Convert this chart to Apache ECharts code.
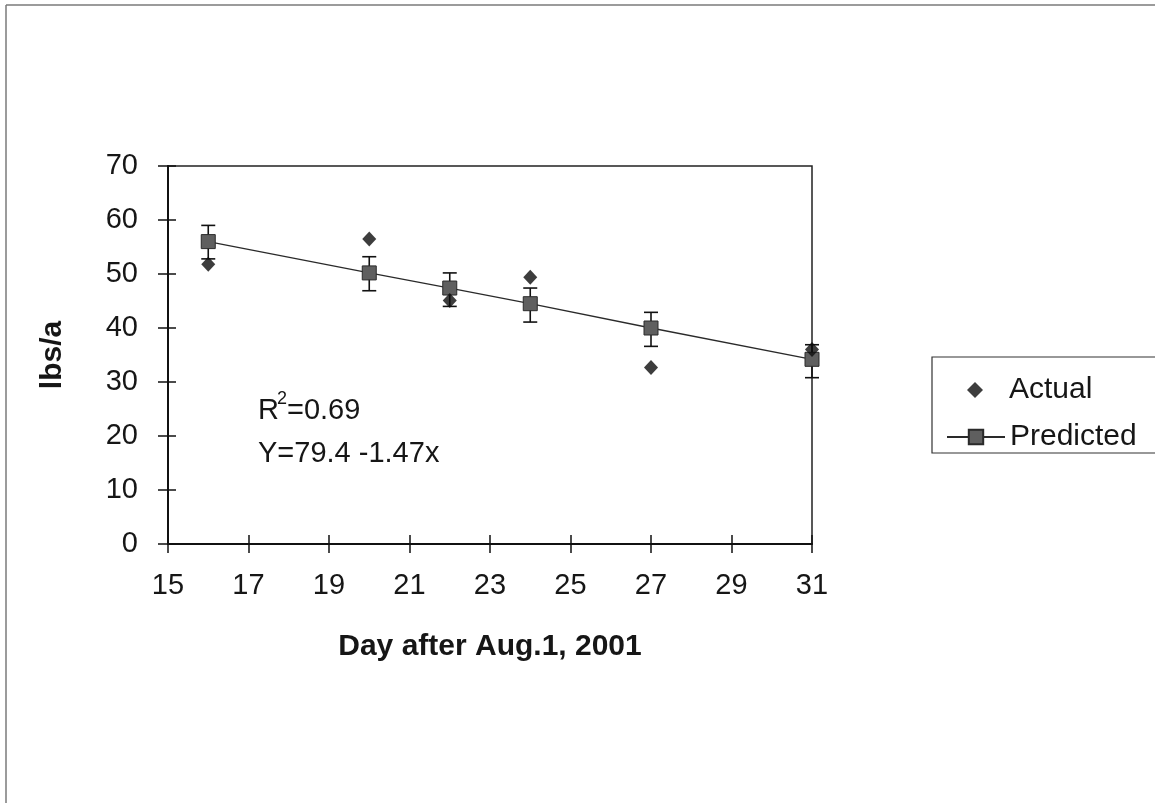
<!DOCTYPE html>
<html>
<head>
<meta charset="utf-8">
<script src="https://cdn.jsdelivr.net/npm/echarts@6/dist/echarts.min.js"></script>
<style>
html,body{margin:0;padding:0;background:#fff;}
#c{width:1155px;height:803px;}
</style>
</head>
<body>
<div id="c"></div>
<script>
// Data
const days = [16, 20, 22, 24, 27, 31];
const actual = [51.8, 56.5, 45.1, 49.4, 32.7, 36.0];
const predicted = [56.0, 50.2, 47.4, 44.5, 40.0, 34.2];
const errLow = [52.8, 46.9, 44.0, 41.1, 36.6, 30.8];
const errHigh = [59.0, 53.2, 50.2, 47.4, 42.9, 36.9];
const xTicks = [15, 17, 19, 21, 23, 25, 27, 29, 31];
const yTicks = [0, 10, 20, 30, 40, 50, 60, 70];

const FONT = '"Liberation Sans", Arial, sans-serif';
const INK = '#161616';

const chart = echarts.init(document.getElementById('c'), null, {renderer: 'canvas'});

const baseX = {
  type: 'value', gridIndex: 0,
  min: xTicks[0], max: xTicks[xTicks.length - 1], interval: 2,
  splitLine: {show: false}
};
const baseY = {
  type: 'value', gridIndex: 0,
  min: yTicks[0], max: yTicks[yTicks.length - 1], interval: 10,
  splitLine: {show: false}
};

const legendText = {fontFamily: FONT, fontSize: 30, color: INK, lineHeight: 30};

const option = {
  backgroundColor: '#ffffff',
  animation: false,
  textStyle: {fontFamily: FONT, color: INK},
  grid: {
    left: 168, top: 166, width: 644, height: 378,
    show: true, borderColor: '#222', borderWidth: 1.5, backgroundColor: 'transparent'
  },
  xAxis: [
    Object.assign({}, baseX, {
      position: 'bottom',
      name: 'Day after Aug.1, 2001',
      nameLocation: 'middle',
      nameGap: 88,
      nameTextStyle: {fontFamily: FONT, fontSize: 30, fontWeight: 'bold', color: INK},
      axisLine: {show: true, lineStyle: {color: '#111', width: 2}},
      axisTick: {show: true, inside: false, length: 9, lineStyle: {color: '#111', width: 1.5}},
      axisLabel: {show: true, margin: 27, fontFamily: FONT, fontSize: 29, color: INK}
    }),
    Object.assign({}, baseX, {
      position: 'bottom',
      axisLine: {show: false},
      axisTick: {show: true, inside: true, length: 9, lineStyle: {color: '#111', width: 1.5}},
      axisLabel: {show: false}
    })
  ],
  yAxis: [
    Object.assign({}, baseY, {
      position: 'left',
      name: 'lbs/a',
      nameLocation: 'middle',
      nameGap: 100,
      nameRotate: 90,
      nameTextStyle: {fontFamily: FONT, fontSize: 30, fontWeight: 'bold', color: INK},
      axisLine: {show: true, lineStyle: {color: '#111', width: 2}},
      axisTick: {show: true, inside: false, length: 10, lineStyle: {color: '#111', width: 1.5}},
      axisLabel: {show: true, margin: 30, fontFamily: FONT, fontSize: 29, color: INK}
    }),
    Object.assign({}, baseY, {
      position: 'left',
      axisLine: {show: false},
      axisTick: {show: true, inside: true, length: 8, lineStyle: {color: '#111', width: 1.5}},
      axisLabel: {show: false}
    })
  ],
  legend: [
    {
      data: ['Actual'],
      left: 962, top: 370,
      itemWidth: 16, itemHeight: 16,
      textStyle: Object.assign({}, legendText, {padding: [0, 0, 0, 21]}),
      selectedMode: false
    },
    {
      data: ['Predicted'],
      left: 941, top: 417,
      itemWidth: 58, itemHeight: 18,
      textStyle: Object.assign({}, legendText, {padding: [0, 0, 0, 0]}),
      selectedMode: false
    }
  ],
  graphic: [
    // outer chart frame (left and top edges visible)
    {type: 'line', shape: {x1: 6, y1: 5, x2: 6, y2: 803}, style: {stroke: '#7a7a7a', lineWidth: 1.5}, silent: true},
    {type: 'line', shape: {x1: 6, y1: 5, x2: 1155, y2: 5}, style: {stroke: '#7a7a7a', lineWidth: 1.5}, silent: true},
    // legend box
    {type: 'rect', shape: {x: 932, y: 357, width: 240, height: 96},
     style: {fill: 'none', stroke: '#333', lineWidth: 1.2}, silent: true, z: 1},
    // regression annotation
    {type: 'text', left: 258, top: 396, style: {text: 'R', font: '29px ' + FONT, fill: INK}, silent: true},
    {type: 'text', left: 277, top: 390, style: {text: '2', font: '18px ' + FONT, fill: INK}, silent: true},
    {type: 'text', left: 287, top: 396, style: {text: '=0.69', font: '29px ' + FONT, fill: INK}, silent: true},
    {type: 'text', left: 258, top: 439, style: {text: 'Y=79.4 -1.47x', font: '29px ' + FONT, fill: INK}, silent: true}
  ],
  series: [
    {
      name: 'ErrorBars',
      type: 'custom',
      xAxisIndex: 0, yAxisIndex: 0,
      z: 2,
      clip: false,
      encode: {x: 0, y: [1, 2]},
      data: days.map((d, i) => [d, errLow[i], errHigh[i]]),
      renderItem: function (params, api) {
        const x = api.value(0);
        const lo = api.coord([x, api.value(1)]);
        const hi = api.coord([x, api.value(2)]);
        const w = 7;
        const st = {stroke: '#111', lineWidth: 1.6};
        return {
          type: 'group',
          children: [
            {type: 'line', shape: {x1: lo[0], y1: lo[1], x2: hi[0], y2: hi[1]}, style: st},
            {type: 'line', shape: {x1: lo[0] - w, y1: lo[1], x2: lo[0] + w, y2: lo[1]}, style: st},
            {type: 'line', shape: {x1: hi[0] - w, y1: hi[1], x2: hi[0] + w, y2: hi[1]}, style: st}
          ]
        };
      }
    },
    {
      name: 'Predicted',
      type: 'line',
      xAxisIndex: 0, yAxisIndex: 0,
      z: 3,
      clip: false,
      data: days.map((d, i) => [d, predicted[i]]),
      symbol: 'rect',
      symbolSize: 14,
      showAllSymbol: true,
      lineStyle: {color: '#2a2a2a', width: 1.3},
      itemStyle: {color: '#5f5f5f', borderColor: '#2a2a2a', borderWidth: 1}
    },
    {
      name: 'Actual',
      type: 'scatter',
      xAxisIndex: 0, yAxisIndex: 0,
      z: 4,
      clip: false,
      data: days.map((d, i) => [d, actual[i]]),
      symbol: 'diamond',
      symbolSize: [14, 15],
      itemStyle: {color: '#0d0d0d'}
    }
  ]
};

chart.setOption(option);
</script>
</body>
</html>
